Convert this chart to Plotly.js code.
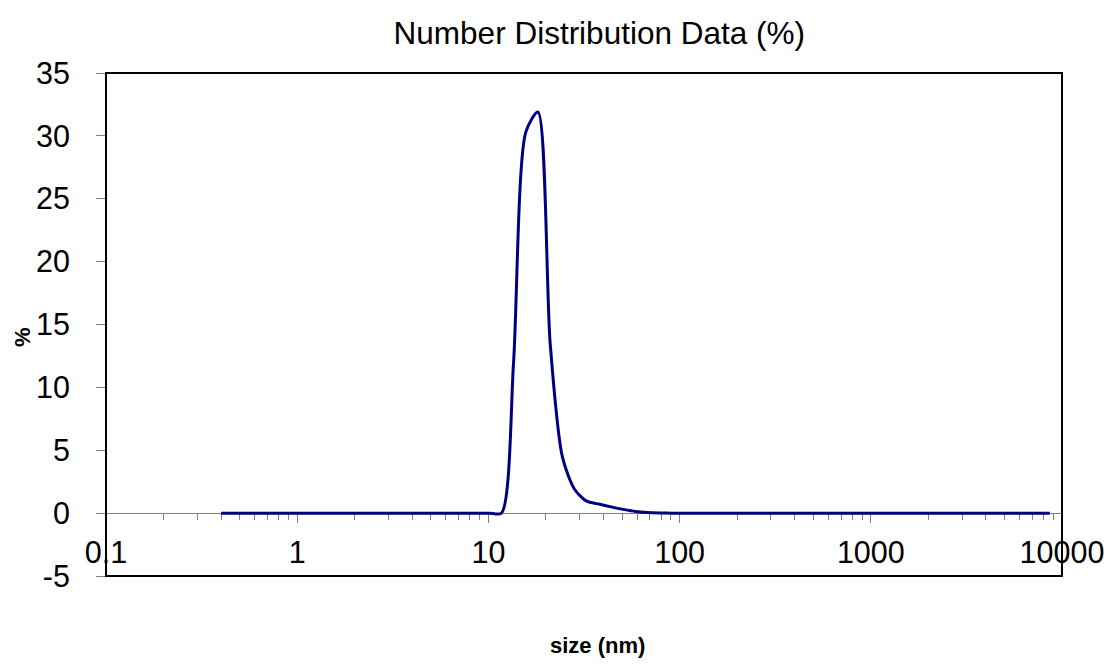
<!DOCTYPE html>
<html>
<head>
<meta charset="utf-8">
<script src="https://cdn.plot.ly/plotly-3.0.1.min.js"></script>
<style>html,body{margin:0;padding:0;background:#fff;}#chart{width:1116px;height:664px;}</style>
</head>
<body>
<div id="chart"></div>
<script>
// Size classes (nm)
const sizes = [0.4, 0.4632, 0.5365, 0.6213, 0.7195, 0.8332, 0.9649, 1.117, 1.294, 1.499,
  1.736, 2.01, 2.328, 2.696, 3.122, 3.615, 4.187, 4.849, 5.615, 6.503,
  7.531, 8.721, 10.1, 11.7, 13.54, 15.69, 18.17, 21.04, 24.36, 28.21,
  32.67, 37.84, 43.82, 50.75, 58.77, 68.06, 78.82, 91.28, 105.7, 122.4,
  141.8, 164.2, 190.1, 220.2, 255.0, 295.3, 342.0, 396.1, 458.7, 531.2,
  615.1, 712.4, 825.0, 955.4, 1106, 1281, 1484, 1718, 1990, 2305,
  2669, 3091, 3580, 4145, 4801, 5560, 6439, 7456, 8635];
// Number distribution (%)
const numberPct = [0, 0, 0, 0, 0, 0, 0, 0, 0, 0,
  0, 0, 0, 0, 0, 0, 0, 0, 0, 0,
  0, 0, 0, 0, 12.0, 30.3, 31.9, 13.5, 4.5, 1.9,
  0.95, 0.72, 0.5, 0.3, 0.13, 0.04, 0.01, 0, 0, 0,
  0, 0, 0, 0, 0, 0, 0, 0, 0, 0,
  0, 0, 0, 0, 0, 0, 0, 0, 0, 0,
  0, 0, 0, 0, 0, 0, 0, 0, 0];

const xTickVals = [0.1, 1, 10, 100, 1000, 10000];
const xTickText = ['0.1', '1', '10', '100', '1000', '10000'];
const yTickVals = [-5, 0, 5, 10, 15, 20, 25, 30, 35];
const yTickText = ['-5', '0', '5', '10', '15', '20', '25', '30', '35'];

const titleText = 'Number Distribution Data (%)';
const xTitle = 'size (nm)';
const yTitle = '%';

const minorVals = [];
for (let d = -1; d < 4; d++) {
  for (let k = 2; k <= 9; k++) minorVals.push(k * Math.pow(10, d));
}

const FONT = 'Liberation Sans, Arial, sans-serif';

const trace = {
  x: sizes, y: numberPct, type: 'scatter', mode: 'lines',
  line: {color: '#000080', width: 3, shape: 'spline', smoothing: 0.75},
  hoverinfo: 'x+y', showlegend: false
};

const layout = {
  width: 1116, height: 664,
  paper_bgcolor: '#ffffff', plot_bgcolor: '#ffffff',
  margin: {l: 106, r: 54, t: 73, b: 88, pad: 0},
  font: {family: FONT, color: '#000000'},
  showlegend: false,
  title: {
    text: titleText, font: {family: FONT, size: 31.5, color: '#000'},
    xref: 'container', x: 0.537, xanchor: 'center',
    yref: 'container', y: 0.951, yanchor: 'middle'
  },
  xaxis: {
    type: 'log', range: [-1, 4],
    anchor: 'free', position: 0.125,
    showgrid: false, zeroline: false,
    showline: true, linecolor: '#808080', linewidth: 1,
    ticks: 'outside', ticklen: 9, tickwidth: 1, tickcolor: '#808080',
    tickmode: 'array', tickvals: xTickVals, ticktext: xTickText,
    tickfont: {family: FONT, size: 30.5, color: '#000'},
    ticklabelstandoff: 3,
    minor: {ticks: 'outside', ticklen: 6, tickwidth: 1, tickcolor: '#808080',
            tickmode: 'array', tickvals: minorVals, showgrid: false},
    layer: 'below traces'
  },
  yaxis: {
    range: [-5, 35], domain: [0, 1],
    showgrid: false, zeroline: false, showline: false,
    ticks: 'outside', ticklen: 9, tickwidth: 1, tickcolor: '#808080',
    tickmode: 'array', tickvals: yTickVals, ticktext: yTickText,
    tickfont: {family: FONT, size: 30.5, color: '#000'},
    ticklabelstandoff: 20
  },
  shapes: [{
    type: 'rect', xref: 'paper', yref: 'paper', x0: 0, x1: 1, y0: 0, y1: 1,
    line: {color: '#000000', width: 2}, fillcolor: 'rgba(0,0,0,0)', layer: 'above'
  }],
  annotations: [
    {text: '<b>' + xTitle + '</b>', xref: 'paper', yref: 'paper', x: 0.514, y: -0.139,
     xanchor: 'center', yanchor: 'middle', showarrow: false,
     font: {family: FONT, size: 22, color: '#000'}},
    {text: '<b>' + yTitle + '</b>', xref: 'paper', yref: 'paper', x: -0.088, y: 0.475,
     xanchor: 'center', yanchor: 'middle', showarrow: false, textangle: -90,
     font: {family: FONT, size: 22, color: '#000'}}
  ]
};

Plotly.newPlot('chart', [trace], layout, {displayModeBar: false, staticPlot: true});
</script>
</body>
</html>
